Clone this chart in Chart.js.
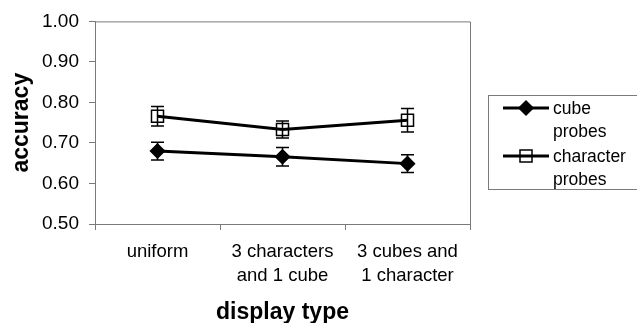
<!DOCTYPE html>
<html>
<head>
<meta charset="utf-8">
<script src="https://cdn.jsdelivr.net/npm/chart.js@4"></script>
<style>
  html, body { margin: 0; padding: 0; background: #fff; }
  #wrap { width: 637px; height: 323px; }
</style>
</head>
<body>
<div id="wrap"><canvas id="accChart" width="637" height="323"></canvas></div>
<script>
const categories = ["uniform", ["3 characters", "and 1 cube"], ["3 cubes and", "1 character"]];
const cubeProbes = [0.680, 0.666, 0.649];
const cubeErr = [0.022, 0.023, 0.022];
const charProbes = [0.766, 0.733, 0.756];
const charErr = [0.024, 0.021, 0.029];
const yTicks = [0.5, 0.6, 0.7, 0.8, 0.9, 1.0];

const FONT = "'Liberation Sans', Arial, sans-serif";
const AXIS_GRAY = '#7a7a7a';

// error bars + plot box
const errorBars = {
    id: 'errorBars',
    afterDatasetsDraw(chart) {
        const ctx = chart.ctx;
        const x = chart.scales.x, y = chart.scales.y;
        chart.data.datasets.forEach(ds => {
            ctx.save();
            ctx.strokeStyle = '#000';
            ctx.lineWidth = 1.5;
            ds.data.forEach((v, i) => {
                const px = x.getPixelForValue(i);
                const top = y.getPixelForValue(v + ds.err[i]);
                const bot = y.getPixelForValue(v - ds.err[i]);
                ctx.beginPath();
                ctx.moveTo(px, top); ctx.lineTo(px, bot);
                ctx.moveTo(px - 6.5, top); ctx.lineTo(px + 6.5, top);
                ctx.moveTo(px - 6.5, bot); ctx.lineTo(px + 6.5, bot);
                ctx.stroke();
            });
            ctx.restore();
        });
    },
    beforeDatasetsDraw(chart) {
        const { ctx, chartArea: a } = chart;
        ctx.save();
        ctx.strokeStyle = AXIS_GRAY;
        ctx.lineWidth = 1;
        ctx.beginPath();
        ctx.moveTo(a.left, a.top + 0.5); ctx.lineTo(a.right + 0.5, a.top + 0.5);
        ctx.lineTo(a.right + 0.5, a.bottom);
        ctx.stroke();
        ctx.restore();
    }
};

// legend box on the right, multi-line labels
const sideLegend = {
    id: 'sideLegend',
    afterDraw(chart) {
        const ctx = chart.ctx;
        ctx.save();
        ctx.strokeStyle = AXIS_GRAY;
        ctx.lineWidth = 1;
        ctx.strokeRect(488.5, 95.5, 160, 94);
        const rows = [
            { y: 108, lines: ['cube', 'probes'], style: 'rectRot', r: 7, fill: '#000' },
            { y: 156, lines: ['character', 'probes'], style: 'rect', r: 8.5, fill: 'rgba(0,0,0,0)' }
        ];
        rows.forEach(row => {
            ctx.strokeStyle = '#000';
            ctx.lineWidth = 3;
            ctx.beginPath();
            ctx.moveTo(503, row.y); ctx.lineTo(549, row.y);
            ctx.stroke();
            ctx.fillStyle = row.fill;
            ctx.lineWidth = 1.5;
            Chart.helpers.drawPoint(ctx, { pointStyle: row.style, radius: row.r, borderWidth: 1.5 }, 526, row.y);
            ctx.fillStyle = '#000';
            ctx.font = '17.5px ' + FONT;
            ctx.textBaseline = 'middle';
            ctx.textAlign = 'left';
            row.lines.forEach((t, k) => ctx.fillText(t, 553, row.y + 1 + k * 23.5));
        });
        ctx.restore();
    }
};

const chart = new Chart(document.getElementById('accChart'), {
    type: 'line',
    data: {
        labels: categories,
        datasets: [
            {
                label: 'cube probes',
                data: cubeProbes,
                err: cubeErr,
                borderColor: '#000',
                borderWidth: 3,
                pointStyle: 'rectRot',
                pointRadius: 7,
                pointBackgroundColor: '#000',
                pointBorderColor: '#000',
                pointBorderWidth: 1.5,
                tension: 0
            },
            {
                label: 'character probes',
                data: charProbes,
                err: charErr,
                borderColor: '#000',
                borderWidth: 3,
                pointStyle: 'rect',
                pointRadius: 8.5,
                pointBackgroundColor: 'rgba(0,0,0,0)',
                pointBorderColor: '#000',
                pointBorderWidth: 1.5,
                tension: 0
            }
        ]
    },
    options: {
        responsive: false,
        animation: false,
        layout: { padding: { top: 20, right: 167, left: 0, bottom: 0 } },
        plugins: {
            legend: { display: false },
            tooltip: { enabled: false }
        },
        scales: {
            x: {
                offset: true,
                grid: {
                    offset: true,
                    drawOnChartArea: false,
                    color: AXIS_GRAY,
                    tickLength: 6
                },
                border: { color: AXIS_GRAY, width: 1 },
                ticks: {
                    color: '#000',
                    padding: 10,
                    maxRotation: 0,
                    autoSkip: false,
                    font: { family: FONT, size: 18.5, lineHeight: 1.3 }
                },
                title: {
                    display: true,
                    text: 'display type',
                    color: '#000',
                    padding: { top: 0, bottom: -1 },
                    font: { family: FONT, size: 23, weight: 'bold', lineHeight: 1.0 }
                },
                afterFit(axis) { axis.height = 99; }
            },
            y: {
                min: 0.5,
                max: 1.0,
                afterBuildTicks(axis) { axis.ticks = yTicks.map(v => ({ value: v })); },
                grid: {
                    drawOnChartArea: false,
                    color: AXIS_GRAY,
                    tickLength: 6
                },
                border: { color: AXIS_GRAY, width: 1 },
                ticks: {
                    color: '#000',
                    padding: 10,
                    font: { family: FONT, size: 19 },
                    callback: v => v.toFixed(2)
                },
                title: {
                    display: true,
                    text: 'accuracy',
                    color: '#000',
                    padding: { top: 8, bottom: 0 },
                    font: { family: FONT, size: 23, weight: 'bold', lineHeight: 1.2 }
                },
                afterFit(axis) { axis.width = 95; }
            }
        }
    },
    plugins: [errorBars, sideLegend]
});
</script>
</body>
</html>
